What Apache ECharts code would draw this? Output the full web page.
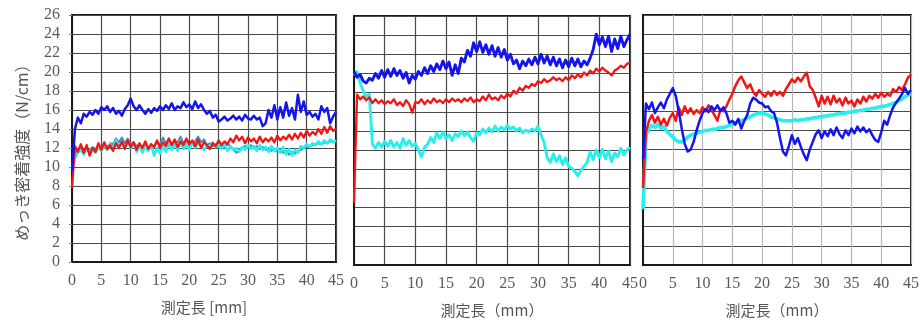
<!DOCTYPE html>
<html>
<head>
<meta charset="utf-8">
<script src="https://cdn.jsdelivr.net/npm/echarts@6/dist/echarts.min.js"></script>
<style>
  html, body { margin: 0; padding: 0; background: #fff; }
  #chart { width: 922px; height: 324px; }
</style>
</head>
<body>
<div id="chart"></div>
<script>
// Sampling step along the measured length (mm)
const STEP_MM = 0.5;

// Tick labels
const X_TICKS = [0, 5, 10, 15, 20, 25, 30, 35, 40, 45];
const Y_TICKS = [0, 2, 4, 6, 8, 10, 12, 14, 16, 18, 20, 22, 24, 26];

// Axis titles
const Y_NAME = 'めっき密着強度（N/cm）';
const X_NAMES = ['測定長 [mm]', '測定長（mm）', '測定長（mm）'];

// Panel 1 — peel strength (N/cm) every 0.5 mm
const p1Blue = [
  9.5,14.0,15.2,14.6,15.6,15.3,15.8,15.5,16.0,15.6,
  16.3,16.0,16.4,15.8,16.2,15.6,15.9,15.4,16.1,16.5,
  17.2,16.4,16.0,16.5,16.0,15.6,16.1,15.7,16.2,15.9,
  16.4,16.0,16.5,16.1,16.7,16.0,16.4,16.2,16.8,16.3,
  16.6,16.1,16.9,16.2,16.6,16.0,15.6,15.9,15.2,15.5,
  14.8,15.0,15.3,14.9,15.1,15.4,15.0,15.3,14.9,15.5,
  15.1,15.0,15.4,15.0,15.2,14.3,14.6,16.0,15.2,16.5,
  15.0,16.3,15.2,16.8,15.4,16.2,15.0,17.6,15.8,16.9,
  15.5,15.8,15.3,15.6,15.0,16.4,15.8,16.2,14.6,15.3,
  15.8];
const p1Red = [
  7.8,12.2,11.6,12.4,11.5,12.3,11.2,12.0,11.6,12.5,
  11.8,12.6,11.9,12.3,11.7,12.5,12.0,12.7,11.9,12.8,
  12.1,12.6,11.8,12.5,12.0,12.7,11.9,12.4,12.1,12.8,
  12.0,12.6,12.2,13.0,12.3,12.9,12.1,12.7,12.3,13.0,
  12.4,12.8,12.2,12.9,12.0,12.6,12.3,11.9,12.5,12.2,
  12.8,12.3,12.7,12.4,13.0,12.6,13.3,12.8,13.2,12.5,
  13.1,12.7,13.0,12.5,13.2,12.6,13.0,12.7,13.1,12.6,
  13.3,12.8,13.2,12.9,13.4,12.9,13.5,13.0,13.6,13.1,
  13.8,13.3,13.7,13.4,14.0,13.5,14.2,13.6,14.3,13.8,
  14.0];
const p1Cyan = [
  9.8,11.0,11.5,11.8,11.3,11.9,11.6,12.0,11.5,12.1,
  11.7,12.3,11.8,12.4,12.0,12.8,12.1,12.6,11.9,12.7,
  12.0,12.5,11.6,12.3,11.5,12.2,11.7,12.4,11.2,12.0,
  11.4,12.2,11.6,12.4,11.8,12.5,11.7,12.6,11.9,12.4,
  11.8,12.6,12.0,12.5,12.2,11.8,12.3,12.0,12.6,12.1,
  12.3,11.9,12.4,11.7,12.2,11.8,12.0,11.6,12.1,11.8,
  12.3,11.9,12.2,11.7,12.3,11.8,12.1,11.6,12.2,11.7,
  12.0,11.5,12.1,11.3,11.9,11.2,11.8,11.5,12.2,12.0,
  12.4,12.1,12.5,12.3,12.7,12.4,12.8,12.5,12.9,12.6,
  12.8];
const p1Teal = [
  9.5,11.4,11.9,12.0,11.7,12.0,11.8,12.1,11.9,12.2,
  12.0,12.3,12.1,12.5,12.4,13.0,12.6,13.1,12.5,13.0,
  12.4,12.6,12.2,12.4,12.1,12.3,12.0,12.3,12.1,12.6,
  12.4,13.1,12.5,12.9,12.3,12.7,12.6,13.2,12.5,12.8,
  12.3,12.5,12.7,13.2,12.6,12.9,12.3,12.5,12.2,12.4,
  12.0,12.3,12.1,12.4,12.2,11.9,11.5,11.7,12.0,12.2,
  12.0,12.3,12.0,12.2,11.9,12.1,11.8,12.0,11.7,11.9,
  11.6,11.8,11.5,11.7,11.3,11.6,11.4,11.7,11.8,12.0,
  12.1,12.2,12.3,12.4,12.5,12.4,12.6,12.5,12.7,12.6,
  12.7];

// Panel 2
const p2Blue = [
  20.2,19.6,19.9,19.2,19.0,19.5,19.3,20.0,19.5,20.3,
  19.6,20.4,19.7,20.5,19.8,20.3,19.5,20.1,19.0,19.8,
  19.4,20.2,19.8,20.6,20.0,20.8,20.2,21.0,20.4,21.3,
  20.5,21.2,19.8,20.9,20.0,21.6,21.2,22.4,21.8,23.2,
  22.3,23.3,22.2,23.0,22.0,22.9,21.8,22.7,21.7,22.5,
  21.4,22.0,21.0,21.4,20.5,21.3,20.8,21.5,20.9,21.7,
  21.0,22.0,21.1,21.8,20.9,21.7,20.8,21.5,20.6,21.4,
  20.7,21.6,20.8,21.5,20.7,21.3,20.9,21.6,22.5,24.1,
  23.0,23.8,22.8,23.9,22.3,23.6,22.6,23.9,22.8,23.5,
  24.1];
const p2Red = [
  6.5,17.8,17.3,17.6,17.2,17.5,16.9,17.3,16.9,17.2,
  16.8,17.1,16.9,17.3,16.7,17.0,16.6,17.2,16.8,15.9,
  17.0,16.9,17.3,16.8,17.2,16.9,17.4,17.0,17.2,16.9,
  17.3,17.0,17.4,17.1,17.3,17.0,17.4,17.1,17.5,17.0,
  17.3,17.1,17.6,17.2,17.8,17.3,17.5,17.2,17.7,17.4,
  17.9,17.6,18.2,17.9,18.5,18.2,18.7,18.5,18.9,18.7,
  19.2,19.0,19.4,19.1,19.3,19.6,19.3,19.5,19.2,19.6,
  19.3,19.8,19.5,19.9,19.6,20.1,19.8,20.3,20.0,20.5,
  20.2,20.6,20.3,20.1,19.8,20.3,20.5,20.8,20.6,21.0,
  21.1];
const p2Cyan = [
  19.8,20.2,19.0,18.2,17.6,17.8,12.6,12.2,12.8,12.3,
  12.9,12.4,13.0,12.3,12.8,12.2,13.2,12.5,13.0,12.4,
  12.7,12.0,11.3,12.3,12.6,13.3,12.8,13.8,13.2,13.9,
  13.2,13.6,13.0,13.7,13.4,14.0,13.5,13.9,13.3,12.9,
  13.8,13.6,14.2,13.8,14.3,13.9,14.5,14.0,14.4,14.1,
  14.6,14.2,14.4,14.0,14.3,13.8,14.1,13.9,14.2,14.0,
  14.5,13.6,12.8,11.2,10.7,11.6,10.8,11.4,10.5,11.2,
  10.3,10.1,9.8,9.3,9.9,10.3,10.7,11.8,11.0,12.0,
  11.2,12.1,11.1,11.9,10.8,11.7,11.3,12.2,11.5,12.0,
  12.3];

// Panel 3
const p3Blue = [
  11.0,16.8,16.2,16.9,15.8,16.4,16.9,16.3,17.2,17.8,
  18.4,17.6,16.0,14.2,12.6,11.8,12.0,12.8,14.0,15.0,
  15.8,16.2,15.9,16.5,16.1,16.6,16.0,16.4,15.8,14.8,
  15.0,14.6,15.2,14.2,15.0,15.6,16.8,17.4,17.2,16.9,
  16.8,16.4,16.5,16.0,15.8,14.8,13.2,11.8,11.4,12.4,
  13.5,12.6,13.2,12.3,11.5,10.9,12.0,12.8,13.6,14.0,
  13.2,13.9,13.4,14.1,13.5,14.3,13.6,13.2,14.0,13.5,
  14.2,13.7,14.4,13.9,14.3,13.8,14.1,13.5,13.0,12.8,
  13.8,15.0,14.6,15.6,16.4,16.9,17.3,17.8,18.4,17.8,
  18.2];
const p3Red = [
  8.0,13.8,15.0,15.6,14.8,15.4,14.6,15.2,14.5,15.3,
  15.8,15.0,16.4,15.6,16.5,15.8,16.3,15.7,16.1,15.8,
  16.4,16.0,16.6,16.1,15.6,15.0,16.2,16.0,16.5,17.2,
  17.8,18.6,19.2,19.6,19.0,18.4,18.8,18.0,17.6,18.2,
  17.8,17.5,18.0,17.6,18.1,17.7,18.0,17.6,18.3,18.8,
  19.3,19.0,19.5,19.1,19.6,20.0,18.6,18.2,17.4,16.5,
  17.6,16.8,17.5,16.7,17.6,16.9,17.3,16.6,17.4,16.8,
  17.1,16.5,17.2,16.8,17.5,17.0,17.6,17.3,17.8,17.4,
  17.9,17.5,17.8,17.6,18.3,18.0,18.5,18.2,18.8,19.5,
  19.8];
const p3Cyan = [
  5.8,13.5,14.2,14.5,14.3,14.6,14.2,14.4,13.9,13.6,
  13.3,13.0,12.8,12.8,13.0,13.3,13.5,13.6,13.7,13.8,
  13.9,14.0,14.0,14.1,14.1,14.2,14.3,14.3,14.4,14.5,
  14.6,14.8,14.9,15.0,15.1,15.3,15.4,15.6,15.7,15.8,
  15.8,15.7,15.6,15.4,15.3,15.2,15.1,15.0,15.0,15.0,
  15.0,15.1,15.0,15.1,15.1,15.2,15.2,15.3,15.3,15.4,
  15.4,15.5,15.5,15.6,15.6,15.7,15.7,15.8,15.8,15.9,
  15.9,16.0,16.0,16.1,16.1,16.2,16.2,16.3,16.3,16.4,
  16.5,16.5,16.6,16.7,16.8,16.9,17.1,17.3,17.5,17.7,
  17.8];

const COLORS = { blue: '#1414ee', red: '#f41414', cyan: '#28eeee', teal: '#3f8fbf' };

const panels = [
  { grid: { left: 72, top: 15, width: 264, height: 247 }, vColor: '#4a4a4a',
    lines: [[p1Teal, 'teal', 2], [p1Cyan, 'cyan', 2.6], [p1Red, 'red', 2.3], [p1Blue, 'blue', 2.5]] },
  { grid: { left: 354, top: 16, width: 276, height: 249 }, vColor: '#4a4a4a',
    lines: [[p2Cyan, 'cyan', 2.9], [p2Red, 'red', 2.3], [p2Blue, 'blue', 2.9]] },
  { grid: { left: 643, top: 15, width: 270, height: 250 }, vColor: '#b5b5b5',
    lines: [[p3Cyan, 'cyan', 3.6], [p3Red, 'red', 2.5], [p3Blue, 'blue', 2.5]] }
];

const numFont = "'Liberation Serif', 'DejaVu Serif', serif";
const jpFont = "'Noto Sans CJK JP', sans-serif";

const toPairs = arr => arr.map((v, i) => [i * STEP_MM, v]);

const option = {
  backgroundColor: '#ffffff',
  animation: false,
  grid: panels.map(p => Object.assign({ show: true, borderColor: '#1a1a1a', borderWidth: 2, backgroundColor: '#fff' }, p.grid)),
  xAxis: panels.map((p, k) => ({
    type: 'value', gridIndex: k,
    min: X_TICKS[0], max: X_TICKS[X_TICKS.length - 1], interval: X_TICKS[1] - X_TICKS[0],
    name: X_NAMES[k], nameLocation: 'middle', nameGap: 38,
    nameTextStyle: { fontFamily: jpFont, fontSize: 15, color: '#555' },
    axisLine: { show: true, lineStyle: { color: '#1a1a1a', width: 2 } },
    axisTick: { show: false },
    axisLabel: { fontFamily: numFont, fontSize: 16, color: '#5a5a5a', margin: 11 },
    splitLine: { show: true, lineStyle: { color: p.vColor, width: 1.2 } }
  })),
  yAxis: panels.map((p, k) => ({
    type: 'value', gridIndex: k,
    min: Y_TICKS[0], max: Y_TICKS[Y_TICKS.length - 1], interval: Y_TICKS[1] - Y_TICKS[0],
    name: k === 0 ? Y_NAME : '', nameLocation: 'middle', nameRotate: 90, nameGap: 42,
    nameTextStyle: { fontFamily: jpFont, fontSize: 16, color: '#555', padding: [0, 20, 0, 0] },
    axisLine: { show: true, lineStyle: { color: '#1a1a1a', width: 2 } },
    axisTick: { show: k === 0, length: 3, lineStyle: { color: '#888' } },
    axisLabel: { show: k === 0, fontFamily: numFont, fontSize: 16, color: '#5a5a5a', margin: 12 },
    splitLine: { show: true, lineStyle: { color: '#4a4a4a', width: 1.2 } }
  })),
  series: []
};

panels.forEach((p, k) => {
  p.lines.forEach(([data, col, w]) => {
    option.series.push({
      type: 'line', xAxisIndex: k, yAxisIndex: k,
      data: toPairs(data), showSymbol: false, symbol: 'none',
      lineStyle: { color: COLORS[col], width: w, join: 'round' },
      clip: true
    });
  });
});

const chart = echarts.init(document.getElementById('chart'), null, { renderer: 'canvas' });
chart.setOption(option);
</script>
</body>
</html>
